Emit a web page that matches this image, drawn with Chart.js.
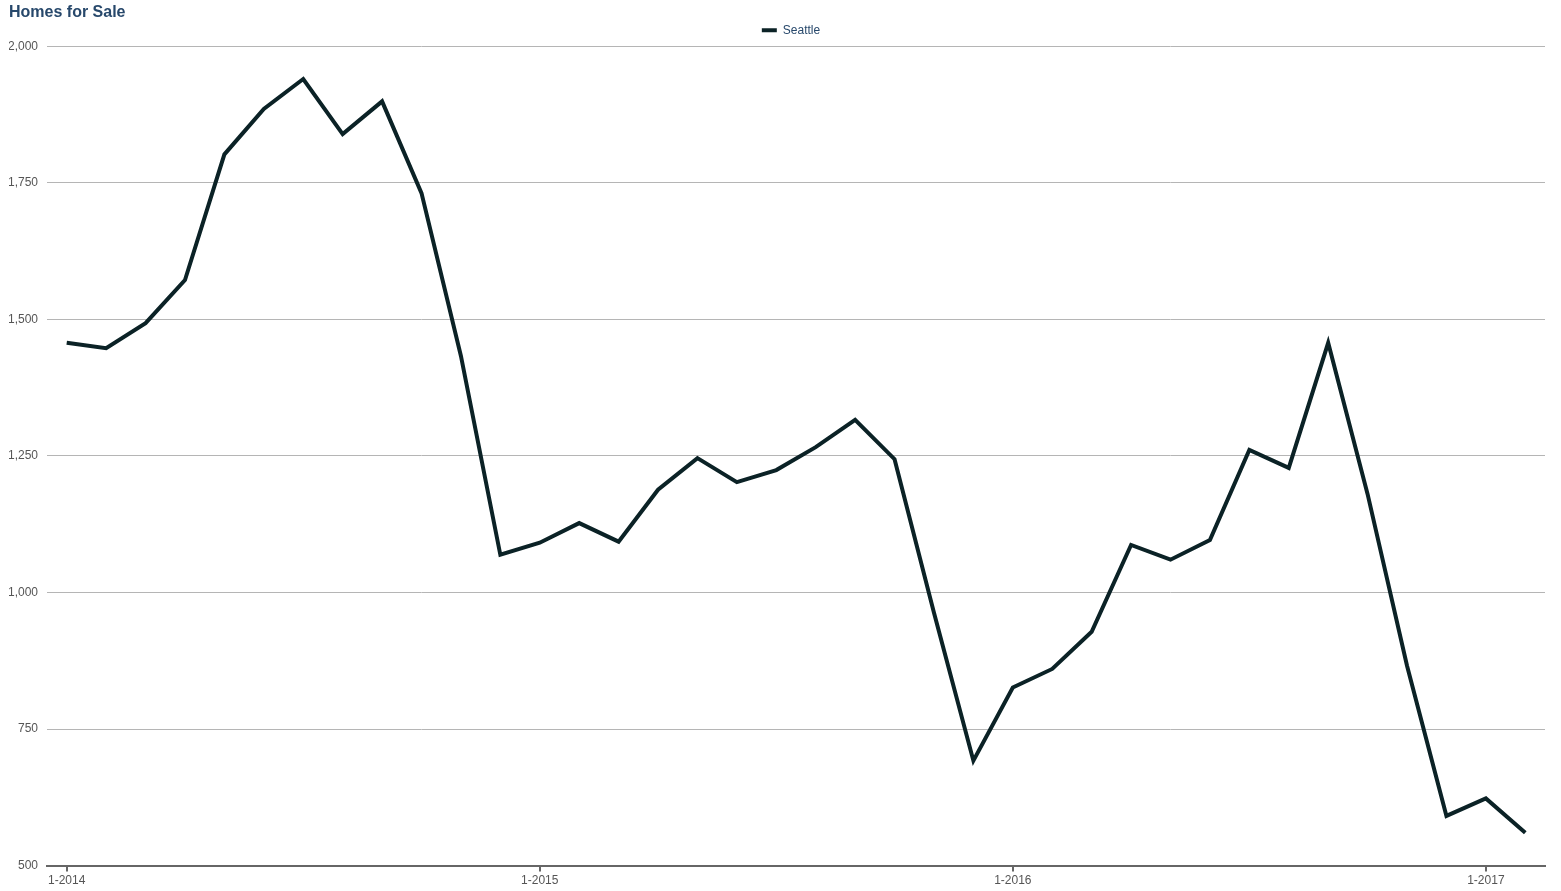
<!DOCTYPE html>
<html>
<head>
<meta charset="utf-8">
<script src="https://cdn.jsdelivr.net/npm/chart.js@4"></script>
<style>
  body { margin: 0; background: #fff; }
  #wrap { width: 1561px; height: 891px; }
</style>
</head>
<body>
<div id="wrap"><canvas id="homesChart"></canvas></div>
<script>
// Months Jan 2014 .. Feb 2017
const months = [
  "1-2014", "2-2014", "3-2014", "4-2014", "5-2014", "6-2014", "7-2014", "8-2014", "9-2014", "10-2014", "11-2014", "12-2014",
  "1-2015", "2-2015", "3-2015", "4-2015", "5-2015", "6-2015", "7-2015", "8-2015", "9-2015", "10-2015", "11-2015", "12-2015",
  "1-2016", "2-2016", "3-2016", "4-2016", "5-2016", "6-2016", "7-2016", "8-2016", "9-2016", "10-2016", "11-2016", "12-2016",
  "1-2017", "2-2017"
];

// Homes for sale, Seattle
const seattle = [
  1457, 1447, 1493, 1572, 1802, 1885, 1940, 1839, 1899, 1731, 1433, 1069,
  1091, 1127, 1093, 1188, 1246, 1202, 1224, 1266, 1316, 1244, 963, 692,
  826, 860, 928, 1087, 1060, 1096, 1261, 1228, 1457, 1180, 866, 591,
  623, 560
];

const yTicks = [500, 750, 1000, 1250, 1500, 1750, 2000];

const lineColor = "#0b2226";
const textBlue = "#27486b";

// legend sits centred over the plot area, not the whole canvas
const legendShift = {
  id: "legendShift",
  afterLayout(chart) {
    const dx = 14;
    chart.legend.left += dx;
    chart.legend.right += dx;
  }
};

new Chart(document.getElementById("homesChart").getContext("2d"), {
  type: "line",
  data: {
    labels: months,
    datasets: [{
      label: "Seattle",
      data: seattle,
      borderColor: lineColor,
      backgroundColor: lineColor,
      borderWidth: 4,
      pointRadius: 0,
      tension: 0,
      fill: false
    }]
  },
  plugins: [legendShift],
  options: {
    responsive: true,
    maintainAspectRatio: false,
    animation: false,
    layout: { padding: { left: 9, right: 16, top: 0, bottom: 1 } },
    plugins: {
      title: {
        display: true,
        text: "Homes for Sale",
        align: "start",
        color: textBlue,
        font: { family: "Liberation Sans", size: 16, weight: "bold" },
        padding: { top: 3, bottom: 0 }
      },
      legend: {
        display: true,
        labels: {
          boxWidth: 15,
          boxHeight: 4,
          padding: 2,
          color: textBlue,
          font: { family: "Liberation Sans", size: 12 },
          // plain filled swatch, no outline
          generateLabels: chart => Chart.defaults.plugins.legend.labels.generateLabels(chart)
            .map(l => Object.assign(l, { lineWidth: 0 }))
        }
      },
      tooltip: { enabled: false }
    },
    scales: {
      x: {
        type: "category",
        offset: true,
        border: { display: true, color: "#666", width: 2 },
        grid: {
          drawOnChartArea: false,
          drawTicks: true,
          tickLength: 6,
          lineWidth: 2,
          color: ctx => (months[ctx.index] || "").startsWith("1-") ? "#666" : "rgba(0,0,0,0)"
        },
        ticks: {
          autoSkip: false,
          maxRotation: 0,
          padding: 2,
          color: "#555",
          font: { family: "Liberation Sans", size: 12 },
          callback: function (val, i) {
            return months[i].startsWith("1-") ? months[i] : "";
          }
        }
      },
      y: {
        min: yTicks[0],
        max: yTicks[yTicks.length - 1],
        border: { display: false },
        grid: { color: "#b5b5b5", lineWidth: 1, drawTicks: false },
        afterBuildTicks: axis => { axis.ticks = yTicks.map(v => ({ value: v })); },
        afterFit: axis => { axis.width = 38; },
        ticks: {
          padding: 9,
          color: "#555",
          font: { family: "Liberation Sans", size: 12 },
          callback: v => v.toLocaleString("en-US")
        }
      }
    }
  }
});
</script>
</body>
</html>
